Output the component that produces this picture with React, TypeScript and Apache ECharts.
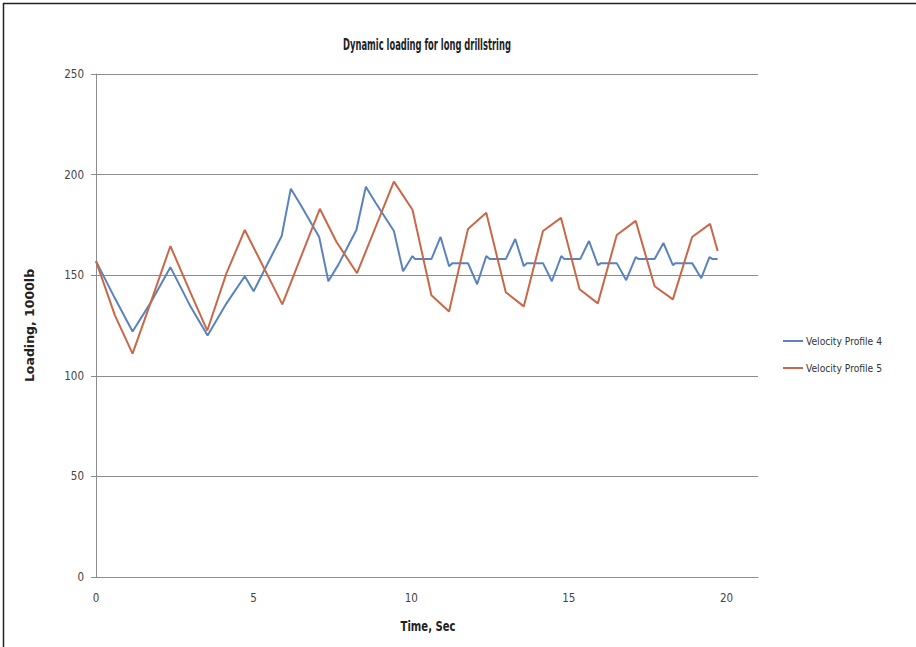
import React, { useEffect, useRef } from "react";
import * as echarts from "echarts";

const chartTitle = "Dynamic loading for long drillstring";
const xAxisName = "Time, Sec";
const yAxisName = "Loading, 1000lb";
const seriesNames = ["Velocity Profile 4", "Velocity Profile 5"];

const timesP4 = [
  0, 0.6, 1.16, 1.76, 2.36, 2.98, 3.54, 4.14, 4.72, 5.0, 5.89, 6.18, 6.49, 7.08, 7.37, 7.68, 8.26, 8.56,
  8.87, 9.45, 9.74, 10.04, 10.12, 10.64, 10.93, 11.2, 11.31, 11.8, 12.09, 12.38, 12.49, 13.0, 13.3,
  13.57, 13.67, 14.18, 14.46, 14.76, 14.86, 15.36, 15.64, 15.92, 16.02, 16.52, 16.82, 17.12, 17.22,
  17.72, 18.0, 18.3, 18.38, 18.91, 19.2, 19.46, 19.56, 19.72,
];
const valuesP4 = [
  157, 138.5, 122, 137, 154, 135, 120, 136, 149.5, 142, 169.5, 193, 185, 169, 147, 155, 172.5, 194,
  186, 172, 152, 159.5, 158, 158, 169, 154.5, 156, 156, 145.5, 159.5, 158, 158, 168,
  154.5, 156, 156, 147, 159.5, 158, 158, 167, 155, 156, 156, 147.5, 159, 158,
  158, 166, 155, 156, 156, 148.5, 159, 158, 158,
];

const timesP5 = [
  0, 0.6, 1.16, 1.77, 2.36, 2.98, 3.53, 4.14, 4.72, 5.91, 7.1, 7.63, 8.28, 9.45, 10.04, 10.64, 11.2,
  11.8, 12.38, 13.0, 13.57, 14.18, 14.75, 15.34, 15.92, 16.52, 17.12, 17.72, 18.3, 18.91, 19.48, 19.72,
];
const valuesP5 = [
  157, 130, 111, 138, 164.5, 142, 122.5, 151, 172.5, 135.5, 183, 166.5, 151, 196.5, 182.5, 140, 132,
  173, 181, 141.5, 134.5, 172, 178.5, 143, 136, 170, 177, 144.5, 138, 169, 175.5, 162,
];

const colors = ["#5A83BE", "#C96848"];
const narrowFont = "'Liberation Sans Narrow', 'DejaVu Sans Condensed', 'Liberation Sans', sans-serif";

export default function App() {
  const ref = useRef<HTMLDivElement>(null);

  useEffect(() => {
    if (!ref.current) return;
    const chart = echarts.init(ref.current, undefined, { renderer: "svg" });
    const p4 = timesP4.map((t, i) => [t, valuesP4[i]]);
    const p5 = timesP5.map((t, i) => [t, valuesP5[i]]);
    chart.setOption({
      animation: false,
      backgroundColor: "#ffffff",
      color: colors,
      graphic: [
        {
          type: "polyline",
          shape: { points: [[3.5, 647], [3.5, 3.5], [916, 3.5]] },
          style: { stroke: "#222", lineWidth: 1.5, fill: "none" },
          silent: true,
        },
        {
          type: "text",
          x: 427,
          y: 45,
          scaleX: 0.6,
          style: {
            text: chartTitle,
            fontFamily: narrowFont,
            fontSize: 15.5,
            fontWeight: "bold",
            fill: "#222",
            textAlign: "center",
            textVerticalAlign: "middle",
          },
        },
        {
          type: "text",
          x: 428,
          y: 626,
          scaleX: 0.8,
          style: {
            text: xAxisName,
            fontFamily: narrowFont,
            fontSize: 14,
            fontWeight: "bold",
            fill: "#222",
            textAlign: "center",
            textVerticalAlign: "middle",
          },
        },
      ],
      grid: { left: 96, right: 158, top: 74, bottom: 70, containLabel: false },
      legend: {
        orient: "vertical",
        left: 778,
        top: 331,
        itemGap: 17,
        itemWidth: 20,
        itemHeight: 2,
        icon: "rect",
        textStyle: { fontFamily: narrowFont, fontSize: 10.2, color: "#333", padding: [0, 0, 0, -2] },
        data: seriesNames,
      },
      xAxis: {
        type: "value",
        min: 0,
        max: 21,
        interval: 5,
        axisLine: { show: true, lineStyle: { color: "#8c8c8c", width: 1 } },
        axisTick: { show: false },
        splitLine: { show: false },
        axisLabel: {
          showMaxLabel: false,
          margin: 15,
          fontFamily: narrowFont,
          fontSize: 11.5,
          color: "#444",
        },
      },
      yAxis: {
        type: "value",
        min: 0,
        max: 250,
        interval: 50,
        name: yAxisName,
        nameLocation: "middle",
        nameGap: 60,
        nameRotate: 90,
        nameTextStyle: { fontFamily: "'DejaVu Sans', sans-serif", fontSize: 12.5, fontWeight: "bold", color: "#222" },
        axisLine: { show: true, lineStyle: { color: "#8c8c8c", width: 1 } },
        axisTick: { show: true, length: 5, inside: false, lineStyle: { color: "#8c8c8c" } },
        splitLine: { show: true, lineStyle: { color: "#8c8c8c", width: 1 } },
        axisLabel: { margin: 12, fontFamily: narrowFont, fontSize: 11.5, color: "#444" },
      },
      series: [
        {
          name: seriesNames[0],
          type: "line",
          data: p4,
          showSymbol: false,
          symbol: "none",
          lineStyle: { width: 2, color: colors[0] },
          itemStyle: { color: colors[0] },
        },
        {
          name: seriesNames[1],
          type: "line",
          data: p5,
          showSymbol: false,
          symbol: "none",
          lineStyle: { width: 2, color: colors[1] },
          itemStyle: { color: colors[1] },
        },
      ],
    });
    return () => chart.dispose();
  }, []);

  return (
    <div
      ref={ref}
      style={{ position: "fixed", left: 0, top: 0, width: 916, height: 647 }}
    />
  );
}
